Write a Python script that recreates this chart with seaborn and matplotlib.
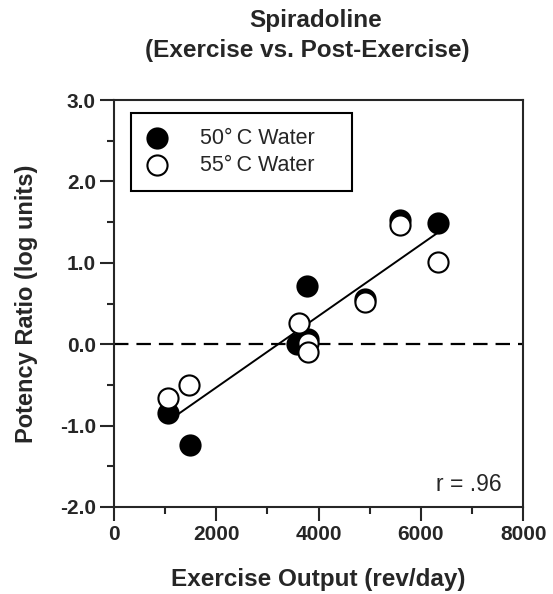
import numpy as np
import pandas as pd
import seaborn as sns
import matplotlib.pyplot as plt
from matplotlib.ticker import MultipleLocator

# values
x_50 = [1060, 1490, 3580, 3770, 3790, 4910, 5590, 6330]
y_50 = [-0.85, -1.24, 0.00, 0.72, 0.06, 0.56, 1.52, 1.49]
x_55 = [1060, 1470, 3620, 3800, 3800, 4910, 5600, 6330]
y_55 = [-0.66, -0.50, 0.26, 0.01, -0.09, 0.52, 1.46, 1.01]
labels = ["50\u00b0\u2009C Water", "55\u00b0\u2009C Water"]
title_lines = ["Spiradoline", "(Exercise vs. Post-Exercise)"]
r_text = "r = .96"

sns.set_style("ticks")
plt.rcParams['font.family'] = ['Liberation Sans', 'DejaVu Sans']

df50 = pd.DataFrame({'x': x_50, 'y': y_50})
df55 = pd.DataFrame({'x': x_55, 'y': y_55})

fig = plt.figure(figsize=(5.53, 5.94), dpi=100)
ax = fig.add_axes([0.206, 0.1465, 0.740, 0.6851])

# regression over all points
all_x = np.array(x_50 + x_55)
all_y = np.array(y_50 + y_55)
slope, intercept = np.polyfit(all_x, all_y, 1)
fx = np.array([all_x.min(), all_x.max()])
ax.plot(fx, slope * fx + intercept, color='black', lw=1.4, zorder=2)

ax.axhline(0, color='black', lw=1.6, dashes=(6.5, 3.6), zorder=1)

sns.scatterplot(data=df50, x='x', y='y', ax=ax, s=210, color='black',
                edgecolor='black', linewidth=1.5, label=labels[0], zorder=3)
sns.scatterplot(data=df55, x='x', y='y', ax=ax, s=210, facecolor='white',
                edgecolor='black', linewidth=1.5, label=labels[1], zorder=4)

ax.set_xlim(0, 8000)
ax.set_ylim(-2.0, 3.0)
ax.xaxis.set_major_locator(MultipleLocator(2000))
ax.xaxis.set_minor_locator(MultipleLocator(1000))
ax.yaxis.set_major_locator(MultipleLocator(1.0))
ax.yaxis.set_minor_locator(MultipleLocator(0.5))
ax.set_yticklabels([f"{v:.1f}" for v in ax.get_yticks()])
ax.tick_params(which='major', direction='out', length=10, width=1.5,
               labelsize=15, pad=3)
ax.tick_params(which='minor', direction='out', length=5, width=1.5)
for lab in ax.get_xticklabels() + ax.get_yticklabels():
    lab.set_fontweight('bold')
for sp in ax.spines.values():
    sp.set_visible(True)
    sp.set_linewidth(1.5)

ax.set_xlabel('Exercise Output (rev/day)', fontsize=17.5, fontweight='bold', labelpad=17)
ax.set_ylabel('Potency Ratio (log units)', fontsize=17, fontweight='bold', labelpad=16)

# title, two lines
fig.text(316 / 553, 1 - 27 / 594, title_lines[0], ha='center', va='baseline',
         fontsize=17.5, fontweight='bold')
fig.text(307 / 553, 1 - 57 / 594, title_lines[1], ha='center', va='baseline',
         fontsize=17.5, fontweight='bold')

ax.text(0.948, 0.055, r_text, transform=ax.transAxes, ha='right', va='center', fontsize=16.5)

leg = ax.legend(loc='upper left', bbox_to_anchor=(0.041, 0.968, 0.54, 0.0),
                mode='expand', fontsize=15.5,
                frameon=True, fancybox=False, edgecolor='black',
                handlelength=1.1, handletextpad=1.45, borderpad=0.68,
                labelspacing=0.3, borderaxespad=0)
leg.get_frame().set_linewidth(1.5)
leg.get_frame().set_alpha(1)

fig.savefig('out.png', dpi=100)
